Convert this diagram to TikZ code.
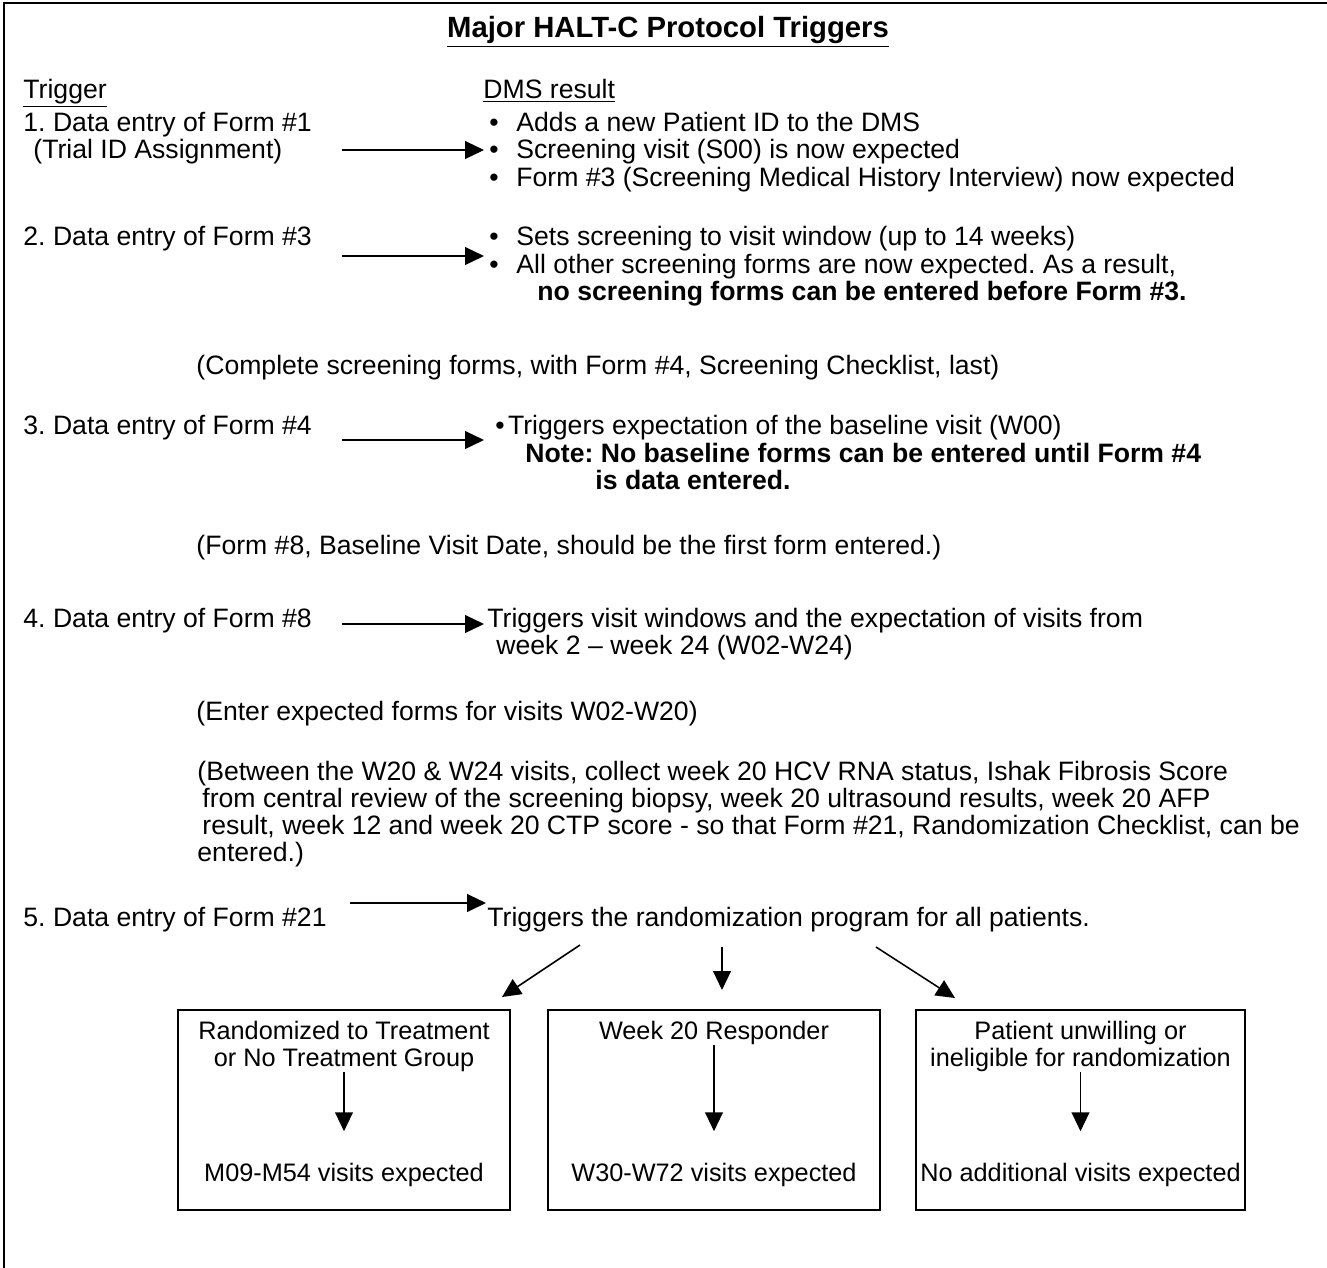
\documentclass[tikz,border=0pt]{standalone}
\usepackage{fontspec}
\setmainfont{Liberation Sans}
\usetikzlibrary{arrows.meta}
\frenchspacing
\begin{document}
\begin{tikzpicture}[x = 0.451pt, y = -0.451pt,
  every node/.style = {inner sep = 0pt, anchor = base west, font = \fontsize{12}{14}\selectfont},
  tip/.style = {-{Triangle[length = 8.5pt, width = 8pt]}, line width = 0.7pt},
  grp/.style = {draw, line width = 0.9pt, anchor = center, minimum height = 90.2pt},
  inbox/.style = {anchor = base, font = \fontsize{11.4}{13}\selectfont},
  bold/.style = {font = \fontsize{12}{14}\selectfont\bfseries}]
\useasboundingbox (0,0) rectangle (1327,1268);
\draw [line width = 1pt] (4,1268) -- (4,3) -- (1327,3);
% headings
\node (title) [anchor = base, font = \fontsize{13.2}{15}\selectfont\bfseries] at (668,37) {\underline{Major HALT-C Protocol Triggers}};
\node (hT) at (23,98) {\underline{Trigger}};
\node (hD) at (483,98) {\underline{DMS result}};
% step 1
\node (T1) at (23,131) {1. Data entry of Form \#1};
\node (T1b) at (33,158) {(Trial ID Assignment)};
\foreach \y/\txt [count = \i] in {131/{Adds a new Patient ID to the DMS},
    158/{Screening visit (S00) is now expected},
    186/{Form \#3 (Screening Medical History Interview) now expected}} {
  \node (D1dot\i) at (489,\y) {\textbullet};
  \node (D1-\i) at (516,\y) {\txt};
}
\coordinate (a1s) at (342,150);
\coordinate (a1e) at (484,150);
\draw [tip] (a1s) -- (a1e);
% step 2
\node (T2) at (23,245) {2. Data entry of Form \#3};
\foreach \y/\txt [count = \i] in {245/{Sets screening to visit window (up to 14 weeks)},
    273/{All other screening forms are now expected. As a result,}} {
  \node (D2dot\i) at (489,\y) {\textbullet};
  \node (D2-\i) at (516,\y) {\txt};
}
\node (D2-3) [bold] at (537,300) {no screening forms can be entered before Form \#3.};
\coordinate (a2s) at (342,256);
\coordinate (a2e) at (484,256);
\draw [tip] (a2s) -- (a2e);
\node (N2) at (196,374) {(Complete screening forms, with Form \#4, Screening Checklist, last)};
% step 3
\node (T3) at (23,434) {3. Data entry of Form \#4};
\node (D3-1) at (495,434) {\textbullet\hspace{1.5pt}Triggers expectation of the baseline visit (W00)};
\node (D3-2) [bold] at (525,462) {Note: No baseline forms can be entered until Form \#4};
\node (D3-3) [bold] at (595,489) {is data entered.};
\coordinate (a3s) at (342,440);
\coordinate (a3e) at (484,440);
\draw [tip] (a3s) -- (a3e);
\node (N3) at (196,554) {(Form \#8, Baseline Visit Date, should be the first form entered.)};
% step 4
\node (T4) at (23,627) {4. Data entry of Form \#8};
\node (D4-1) at (487,627) {Triggers visit windows and the expectation of visits from};
\node (D4-2) at (496,654) {week 2 \textendash{} week 24 (W02-W24)};
\coordinate (a4s) at (342,624);
\coordinate (a4e) at (484,624);
\draw [tip] (a4s) -- (a4e);
\node (N4) at (196,720) {(Enter expected forms for visits W02-W20)};
\node (P1) at (197,780) {(Between the W20 \& W24 visits, collect week 20 HCV RNA status, Ishak Fibrosis Score};
\node (P2) at (202,807) {from central review of the screening biopsy, week 20 ultrasound results, week 20 AFP};
\node (P3) at (202,834) {result, week 12 and week 20 CTP score - so that Form \#21, Randomization Checklist, can be};
\node (P4) at (197,861) {entered.)};
% step 5
\node (T5) at (23,926) {5. Data entry of Form \#21};
\node (D5) at (487,926) {Triggers the randomization program for all patients.};
\coordinate (a5s) at (350,903);
\coordinate (a5e) at (486,903);
\draw [tip] (a5s) -- (a5e);
% outcome boxes
\node (B1) [grp, minimum width = 149.7pt] at (344,1110) {};
\node (B2) [grp, minimum width = 149.7pt] at (714,1110) {};
\node (B3) [grp, minimum width = 148.4pt] at (1080.5,1110) {};
\node (B1a) [inbox] at (344,1039) {Randomized to Treatment};
\node (B1b) [inbox] at (344,1066) {or No Treatment Group};
\node (B1c) [inbox] at (344,1181) {M09-M54 visits expected};
\node (B2a) [inbox] at (714,1039) {Week 20 Responder};
\node (B2c) [inbox] at (714,1181) {W30-W72 visits expected};
\node (B3a) [inbox] at (1080.5,1039) {Patient unwilling or};
\node (B3b) [inbox] at (1080.5,1066) {ineligible for randomization};
\node (B3c) [inbox] at (1080.5,1181) {No additional visits expected};
\draw [tip, shorten >= 14pt] (B1b.south) -- (B1c.north);
\draw [tip, shorten >= 14pt] (B2a.south) -- (B2c.north);
\draw [tip, shorten >= 14pt] (B3b.south) -- (B3c.north);
% split arrows
\coordinate (s1) at (580,945);
\coordinate (e1) at (502,997);
\coordinate (s2) at (722,947);
\coordinate (e2) at (722,990);
\coordinate (s3) at (876,947);
\coordinate (e3) at (955,998);
\foreach \i in {1,2,3}
  \draw [tip] (s\i) -- (e\i);
\end{tikzpicture}
\end{document}
